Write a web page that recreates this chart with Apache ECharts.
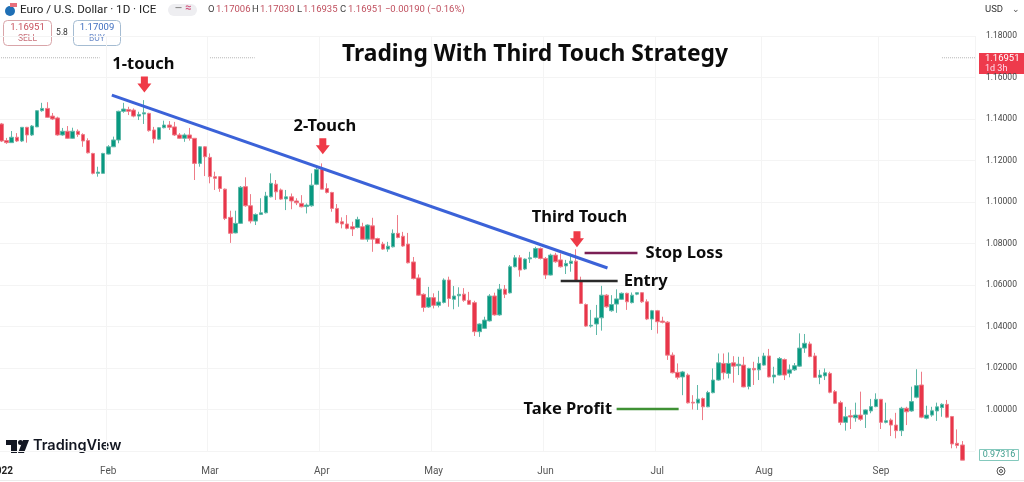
<!DOCTYPE html>
<html lang="en">
<head>
  <meta charset="UTF-8">
  <title>Trading With Third Touch Strategy</title>
  <script src="https://cdn.jsdelivr.net/npm/echarts@6/dist/echarts.min.js"></script>
  <style>
    * { margin: 0; padding: 0 }
    html, body { width: 100%; height: 100%; background: #fff; overflow: hidden; }
    #main { width: 1024px; height: 482px; }
  </style>
</head>
<body>
  <div id="main"></div>
</body>
<script type="text/javascript">
  /*-------------------- daily EUR/USD --------------------*/
  var opens = [
    1.1376,1.1296,1.1286,1.1312,1.1294,1.1360,1.1323,1.1362,1.1440,1.1451,
    1.1414,1.1405,1.1323,1.1341,1.1307,1.1341,1.1325,1.1296,1.1234,1.1138,
    1.1138,1.1231,1.1266,1.1299,1.1437,1.1446,1.1443,1.1414,1.1424,1.1427,
    1.1347,1.1303,1.1358,1.1371,1.1362,1.1323,1.1307,1.1323,1.1307,1.1186,
    1.1266,1.1215,1.1122,1.1122,1.1062,1.0926,1.0851,1.0897,1.1074,1.0982,
    1.0908,1.0940,1.0948,1.1025,1.1086,1.1058,1.1015,1.1025,1.1005,1.0993,
    1.0978,1.0982,1.1085,1.1157,1.1065,1.1046,1.0969,1.0905,1.0894,1.0881,
    1.0877,1.0881,1.0821,1.0885,1.0824,1.0797,1.0773,1.0784,1.0849,1.0835,
    1.0797,1.0711,1.0634,1.0555,1.0494,1.0539,1.0502,1.0516,1.0624,1.0531,
    1.0548,1.0556,1.0526,1.0515,1.0375,1.0391,1.0427,1.0547,1.0456,1.0580,
    1.0562,1.0688,1.0731,1.0677,1.0726,1.0733,1.0776,1.0728,1.0648,1.0744,
    1.0721,1.0692,1.0704,1.0715,1.0620,1.0506,1.0402,1.0412,1.0442,1.0551,
    1.0476,1.0508,1.0531,1.0560,1.0515,1.0556,1.0563,1.0519,1.0436,1.0476,
    1.0426,1.0421,1.0262,1.0179,1.0157,1.0166,1.0035,1.0031,1.0053,1.0013,
    1.0081,1.0142,1.0222,1.0174,1.0225,1.0211,1.0214,1.0111,1.0198,1.0191,
    1.0214,1.0258,1.0157,1.0166,1.0241,1.0175,1.0191,1.0209,1.0296,1.0316,
    1.0258,1.0155,1.0162,1.0174,1.0086,1.0033,0.9938,0.9970,0.9960,0.9973,
    0.9977,0.9993,1.0014,1.0049,0.9938,0.9949,0.9925,0.9898,1.0006,0.9993,
    1.0059,1.0118,0.9958,0.9973,0.9993,1.0009,1.0025,0.9966,0.9837,0.9829
  ];
  var closes = [
    1.1294,1.1286,1.1312,1.1294,1.1360,1.1323,1.1366,1.1440,1.1451,1.1408,
    1.1400,1.1323,1.1341,1.1307,1.1341,1.1325,1.1294,1.1237,1.1138,1.1144,
    1.1234,1.1266,1.1299,1.1437,1.1448,1.1437,1.1414,1.1422,1.1430,1.1344,
    1.1304,1.1358,1.1371,1.1360,1.1323,1.1307,1.1323,1.1307,1.1186,1.1266,
    1.1218,1.1122,1.1114,1.1065,1.0921,1.0849,1.0897,1.1071,1.0982,1.0908,
    1.0940,1.0948,1.1029,1.1090,1.1049,1.1014,1.1025,1.1005,1.0996,1.0977,
    1.0985,1.1081,1.1157,1.1062,1.1046,1.0969,1.0900,1.0894,1.0873,1.0870,
    1.0916,1.0821,1.0889,1.0821,1.0800,1.0773,1.0787,1.0849,1.0829,1.0788,
    1.0707,1.0631,1.0551,1.0492,1.0539,1.0502,1.0518,1.0624,1.0535,1.0547,
    1.0555,1.0526,1.0507,1.0375,1.0412,1.0431,1.0547,1.0456,1.0580,1.0555,
    1.0688,1.0731,1.0672,1.0725,1.0731,1.0776,1.0728,1.0648,1.0744,1.0712,
    1.0688,1.0704,1.0715,1.0620,1.0511,1.0402,1.0406,1.0441,1.0551,1.0495,
    1.0506,1.0533,1.0560,1.0519,1.0551,1.0563,1.0519,1.0436,1.0476,1.0423,
    1.0420,1.0262,1.0177,1.0155,1.0181,1.0032,1.0031,1.0050,1.0013,1.0082,
    1.0142,1.0225,1.0177,1.0222,1.0209,1.0218,1.0109,1.0198,1.0191,1.0222,
    1.0258,1.0157,1.0166,1.0246,1.0166,1.0191,1.0211,1.0296,1.0319,1.0255,
    1.0155,1.0166,1.0177,1.0083,1.0030,0.9938,0.9965,0.9964,0.9973,0.9953,
    0.9998,1.0014,1.0049,0.9938,0.9946,0.9925,0.9898,1.0006,0.9989,1.0038,
    1.0115,0.9963,0.9973,0.9994,1.0013,1.0025,0.9963,0.9834,0.9827,0.9756
  ];
  var lows = [
    1.1289,1.1280,1.1285,1.1289,1.1289,1.1286,1.1318,1.1361,1.1435,1.1405,
    1.1395,1.1319,1.1319,1.1304,1.1304,1.1314,1.1266,1.1234,1.1133,1.1122,
    1.1136,1.1229,1.1265,1.1283,1.1430,1.1419,1.1408,1.1395,1.1376,1.1339,
    1.1283,1.1299,1.1355,1.1347,1.1318,1.1304,1.1290,1.1296,1.1106,1.1170,
    1.1125,1.1090,1.1058,1.1049,1.0913,1.0803,1.0849,1.0894,1.0977,1.0897,
    1.0889,1.0937,1.0945,1.1022,1.1010,1.1010,1.0961,1.0965,1.0985,1.0974,
    1.0945,1.0977,1.1081,1.1061,1.1041,1.0953,1.0897,1.0873,1.0868,1.0836,
    1.0873,1.0820,1.0808,1.0760,1.0797,1.0769,1.0760,1.0781,1.0825,1.0784,
    1.0704,1.0627,1.0548,1.0471,1.0490,1.0487,1.0492,1.0511,1.0495,1.0483,
    1.0495,1.0519,1.0504,1.0354,1.0350,1.0388,1.0424,1.0452,1.0452,1.0537,
    1.0559,1.0685,1.0640,1.0672,1.0706,1.0728,1.0723,1.0629,1.0646,1.0707,
    1.0684,1.0653,1.0664,1.0615,1.0508,1.0398,1.0395,1.0359,1.0380,1.0490,
    1.0471,1.0466,1.0528,1.0480,1.0511,1.0551,1.0514,1.0431,1.0383,1.0366,
    1.0415,1.0239,1.0174,1.0145,1.0069,1.0029,1.0000,0.9998,0.9949,1.0011,
    1.0078,1.0139,1.0145,1.0150,1.0129,1.0166,1.0107,1.0097,1.0118,1.0142,
    1.0211,1.0155,1.0126,1.0164,1.0142,1.0155,1.0186,1.0206,1.0273,1.0252,
    1.0152,1.0122,1.0142,1.0078,1.0026,0.9925,0.9898,0.9906,0.9941,0.9945,
    0.9911,0.9982,1.0011,0.9906,0.9933,0.9872,0.9861,0.9872,0.9925,0.9989,
    1.0054,0.9958,0.9953,0.9965,0.9945,0.9965,0.9958,0.9813,0.9813,0.9756
  ];
  var highs = [
    1.1381,1.1309,1.1342,1.1332,1.1361,1.1362,1.1371,1.1443,1.1478,1.1481,
    1.1429,1.1411,1.1357,1.1366,1.1358,1.1350,1.1331,1.1307,1.1237,1.1170,
    1.1237,1.1274,1.1315,1.1440,1.1478,1.1459,1.1451,1.1435,1.1491,1.1430,
    1.1362,1.1361,1.1392,1.1390,1.1386,1.1332,1.1331,1.1357,1.1308,1.1269,
    1.1269,1.1234,1.1146,1.1125,1.1065,1.0958,1.0958,1.1077,1.1119,1.1038,
    1.0945,1.1018,1.1049,1.1138,1.1106,1.1065,1.1058,1.1041,1.1018,1.1033,
    1.0993,1.1138,1.1165,1.1186,1.1090,1.1049,1.0990,1.0926,1.0937,1.0905,
    1.0929,1.0900,1.0892,1.0924,1.0828,1.0808,1.0808,1.0868,1.0937,1.0856,
    1.0851,1.0735,1.0651,1.0560,1.0591,1.0560,1.0572,1.0632,1.0640,1.0595,
    1.0589,1.0585,1.0567,1.0524,1.0415,1.0447,1.0556,1.0563,1.0605,1.0600,
    1.0696,1.0744,1.0744,1.0728,1.0760,1.0784,1.0781,1.0735,1.0751,1.0755,
    1.0752,1.0721,1.0752,1.0772,1.0640,1.0511,1.0480,1.0504,1.0596,1.0556,
    1.0551,1.0579,1.0564,1.0563,1.0564,1.0564,1.0566,1.0531,1.0480,1.0480,
    1.0447,1.0426,1.0275,1.0222,1.0186,1.0174,1.0069,1.0118,1.0058,1.0090,
    1.0198,1.0270,1.0270,1.0275,1.0257,1.0254,1.0254,1.0201,1.0230,1.0254,
    1.0273,1.0292,1.0206,1.0253,1.0246,1.0217,1.0224,1.0367,1.0364,1.0327,
    1.0273,1.0191,1.0198,1.0182,1.0094,1.0042,1.0013,0.9998,1.0033,1.0086,
    1.0001,1.0051,1.0078,1.0051,1.0033,0.9957,0.9984,1.0013,1.0013,1.0110,
    1.0194,1.0182,1.0018,1.0013,1.0033,1.0030,1.0046,0.9969,0.9904,0.9848
  ];

  var monthNames = ['2022', 'Feb', 'Mar', 'Apr', 'May', 'Jun', 'Jul', 'Aug', 'Sep'];
  var monthBars = [0, 21, 41, 63, 85, 107, 129, 150, 173];
  var emptyBars = 2; // room right of the last candle

  // drawn levels, [bar, price]
  var trendLine = [[21.7, 1.1515], [119.2, 1.0682]];
  var stopLossLine = [[114.7, 1.0754], [125.1, 1.0754]];
  var entryLine = [[110.0, 1.0619], [121.2, 1.0619]];
  var takeProfitLine = [[121.0, 1.0002], [133.2, 1.0002]];

  var lastPrice = 1.16951;
  var lastPriceDots = [[[-0.5, 19.3], lastPrice], [[41, 49.8], lastPrice], [[185, 191.5], lastPrice]];

  var noteTexts = ['1-touch', '2-Touch', 'Third Touch', 'Stop Loss', 'Entry', 'Take Profit'];
  var noteBars = [27.9, 63.6, 113.7, 134.3, 126.7, 111.4];
  var notePrices = [1.1664, 1.1366, 1.0927, 1.0753, 1.0619, 1.0001];

  var arrowBars = [28.1, 63.2, 113.2];
  var arrowPrices = [1.1566, 1.1269, 1.0821];

  /*-------------------- build --------------------*/
  var barCount = opens.length + emptyBars;
  var categories = [];
  for (var i = 0; i < barCount; i++) {
    var m = monthBars.indexOf(i);
    categories.push(m >= 0 ? monthNames[m] : '');
  }

  var candles = [];
  for (var j = 0; j < opens.length; j++) {
    candles.push([opens[j], closes[j], lows[j], highs[j]]);
  }

  function pairs(xs, ys) {
    return xs.map(function (x, k) { return [x, ys[k]]; });
  }

  function levelSeries(data, color, width) {
    return {
      type: 'line', xAxisIndex: 1, data: data, symbol: 'none', clip: false, silent: true,
      lineStyle: { color: color, width: width }
    };
  }

  var series = [
    {
      type: 'candlestick',
      data: candles,
      barWidth: 4,
      clip: false,
      itemStyle: {
        color: '#089981', color0: '#e8364a',
        borderColor: '#5fb8a8', borderColor0: '#ee7c88',
        borderWidth: 1
      }
    },
    levelSeries(trendLine, '#3b62d8', 3),
    levelSeries(stopLossLine, '#7a1f55', 2.5),
    levelSeries(entryLine, '#2a2a2a', 2.5),
    levelSeries(takeProfitLine, '#3f9134', 2.5),
    {
      type: 'scatter', xAxisIndex: 1, clip: false, silent: true,
      data: pairs(arrowBars, arrowPrices),
      symbol: 'path://M3,0H9V7H12L6,16L0,7H3Z',
      symbolSize: [14, 16],
      itemStyle: { color: '#ef3a47', opacity: 1 }
    },
    {
      type: 'scatter', xAxisIndex: 1, clip: false, silent: true,
      data: pairs(noteBars, notePrices),
      symbolSize: 1,
      itemStyle: { color: 'rgba(0,0,0,0)', opacity: 1 },
      label: {
        show: true, position: 'inside',
        formatter: function (p) { return noteTexts[p.dataIndex]; },
        color: '#0c0c0c', fontFamily: 'Noto Sans', fontWeight: 'bold', fontSize: 16.5
      }
    }
  ];
  lastPriceDots.forEach(function (d) {
    series.push({
      type: 'line', xAxisIndex: 1, symbol: 'none', silent: true,
      data: [[d[0][0], d[1]], [d[0][1], d[1]]],
      lineStyle: { color: '#b5b5b5', width: 1, type: 'dotted' }
    });
  });

  var uiFont = 'Roboto';
  var myChart = echarts.init(document.getElementById('main'));
  myChart.setOption({
    animation: false,
    backgroundColor: '#ffffff',
    title: {
      text: 'Trading With Third Touch Strategy',
      left: 530, top: 38, textAlign: 'center',
      textStyle: { fontFamily: 'Noto Sans', fontWeight: 'bold', fontSize: 22.8, color: '#0c0c0c' }
    },
    grid: { left: -1, right: 49, top: 36, height: 415, outerBoundsMode: 'none' },
    xAxis: [
      {
        type: 'category',
        data: categories,
        axisLine: { show: false },
        axisTick: { show: false },
        splitLine: {
          show: true,
          interval: function (index) { return monthBars.indexOf(index) > 0; },
          lineStyle: { color: '#f4f4f4' }
        },
        axisLabel: {
          interval: 0, margin: 15, fontFamily: uiFont, fontSize: 10, color: '#555',
          formatter: function (v) { return v === monthNames[0] ? '{year|' + v + '}' : v; },
          rich: { year: { fontFamily: uiFont, fontSize: 10, fontWeight: 'bold', color: '#222' } }
        }
      },
      { type: 'value', show: false, min: -0.5, max: barCount - 0.5, splitLine: { show: false } }
    ],
    yAxis: {
      type: 'value',
      position: 'right',
      min: 0.98, max: 1.18, interval: 0.02,
      axisLine: { show: false },
      axisTick: { show: false },
      splitLine: { lineStyle: { color: '#f4f4f4' } },
      axisLabel: {
        margin: 11, fontFamily: uiFont, fontSize: 8.5, color: '#444',
        formatter: function (v) { return v < 0.99 ? '' : v.toFixed(5); }
      }
    },
    series: series,
    graphic: [
      // symbol line
      { type: 'circle', shape: { cx: 10, cy: 11, r: 5 }, style: { fill: '#1f6fb5' } },
      { type: 'rect', shape: { x: 10, y: 3, width: 7, height: 4 }, style: { fill: '#e8707c' } },
      { type: 'text', style: { x: 20, y: 4, text: 'Euro / U.S. Dollar · 1D · ICE', fill: '#222', font: '11.6px Roboto' } },
      { type: 'rect', shape: { x: 168, y: 4, width: 29, height: 12, r: 6 }, style: { fill: '#eeeef1' } },
      { type: 'text', style: { x: 175, y: 4, text: '—', fill: '#888', font: 'bold 9px Roboto' } },
      { type: 'text', style: { x: 185, y: 3, text: '≈', fill: '#d0557f', font: 'bold 11px Roboto' } },
      { type: 'text', style: { x: 208, y: 5, text: 'O', fill: '#444', font: '9.5px Roboto' } },
      { type: 'text', style: { x: 216, y: 5, text: '1.17006', fill: '#c0505f', font: '9.5px Roboto' } },
      { type: 'text', style: { x: 252, y: 5, text: 'H', fill: '#444', font: '9.5px Roboto' } },
      { type: 'text', style: { x: 260, y: 5, text: '1.17030', fill: '#c0505f', font: '9.5px Roboto' } },
      { type: 'text', style: { x: 297, y: 5, text: 'L', fill: '#444', font: '9.5px Roboto' } },
      { type: 'text', style: { x: 303, y: 5, text: '1.16935', fill: '#c0505f', font: '9.5px Roboto' } },
      { type: 'text', style: { x: 340, y: 5, text: 'C', fill: '#444', font: '9.5px Roboto' } },
      { type: 'text', style: { x: 348, y: 5, text: '1.16951 −0.00190 (−0.16%)', fill: '#c0505f', font: '9.5px Roboto' } },

      // sell / buy boxes
      { type: 'rect', shape: { x: 3.5, y: 20.5, width: 48, height: 25, r: 4 }, style: { fill: '#fff', stroke: '#d9a5a9', lineWidth: 1 } },
      { type: 'text', style: { x: 27.5, y: 23, text: '1.16951', align: 'center', fill: '#c8505c', font: '9.5px Roboto' } },
      { type: 'text', style: { x: 27.5, y: 34, text: 'SELL', align: 'center', fill: '#c8707a', font: '8.5px Roboto' } },
      { type: 'text', style: { x: 62, y: 28, text: '5.8', align: 'center', fill: '#333', font: '8.5px Roboto' } },
      { type: 'rect', shape: { x: 73.5, y: 20.5, width: 47, height: 25, r: 4 }, style: { fill: '#fff', stroke: '#a5bcd2', lineWidth: 1 } },
      { type: 'text', style: { x: 97, y: 23, text: '1.17009', align: 'center', fill: '#3f6fc0', font: '9.5px Roboto' } },
      { type: 'text', style: { x: 97, y: 34, text: 'BUY', align: 'center', fill: '#6f8fcb', font: '8.5px Roboto' } },

      // right side
      { type: 'text', style: { x: 985, y: 5, text: 'USD', fill: '#333', font: '9.5px Roboto' } },
      { type: 'text', style: { x: 1012, y: 5, text: '⌄', fill: '#555', font: '9px Roboto' } },
      { type: 'rect', shape: { x: 979, y: 53, width: 45, height: 21 }, style: { fill: '#ee3a4c' } },
      { type: 'text', style: { x: 985, y: 54, text: '1.16951', fill: '#fff', font: '9.5px Roboto' } },
      { type: 'text', style: { x: 985, y: 64, text: '1d 3h', fill: '#fde', font: '9px Roboto' } },
      { type: 'rect', shape: { x: 979.5, y: 449.5, width: 39, height: 11 }, style: { fill: '#fff', stroke: '#84c9bd', lineWidth: 1 } },
      { type: 'text', style: { x: 999, y: 450, text: '0.97316', align: 'center', fill: '#3c9c8c', font: '9px Roboto' } },
      { type: 'circle', shape: { cx: 1001, cy: 471, r: 4 }, style: { fill: 'none', stroke: '#555', lineWidth: 1 } },
      { type: 'circle', shape: { cx: 1001, cy: 471, r: 1.5 }, style: { fill: 'none', stroke: '#555', lineWidth: 1 } },
      { type: 'line', shape: { x1: 0, y1: 480.5, x2: 1024, y2: 480.5 }, style: { stroke: '#ececec', lineWidth: 1 } },

      // TradingView mark
      { type: 'polygon', shape: { points: [[6, 440], [17, 440], [17, 453], [11, 453], [11, 445], [6, 445]] }, style: { fill: '#131722' } },
      { type: 'circle', shape: { cx: 20.5, cy: 442.5, r: 2.5 }, style: { fill: '#131722' } },
      { type: 'polygon', shape: { points: [[23, 440], [29, 440], [24, 453], [18, 453]] }, style: { fill: '#131722' } },
      { type: 'text', style: { x: 33, y: 438, text: 'TradingView', fill: '#131722', font: '600 14.5px Inter' } }
    ]
  });
</script>
</html>
